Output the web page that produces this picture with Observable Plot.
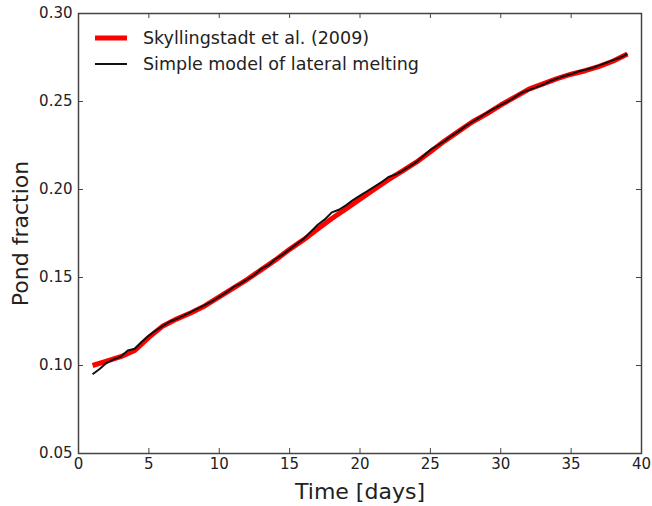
<!DOCTYPE html>
<html><head><meta charset="utf-8">
<script src="https://cdn.jsdelivr.net/npm/d3@7"></script>
<script src="https://cdn.jsdelivr.net/npm/@observablehq/plot@0.6"></script>
<style>body{margin:0;background:#fff}</style>
</head><body><div id="chart"></div>
<script>
const seriesNames = ["Skyllingstadt et al. (2009)", "Simple model of lateral melting"];
const redDays = [1,2,3,4,5,6,7,8,9,10,11,12,13,14,15,16,17,18,19,20,21,22,23,24,25,26,27,28,29,30,31,32,33,34,35,36,37,38,39];
const redValues = [0.1000,0.1025,0.1050,0.1085,0.1160,0.1225,0.1265,0.1300,0.1340,0.1390,0.1440,0.1490,0.1545,0.1600,0.1660,0.1715,0.1775,0.1835,0.1890,0.1945,0.2000,0.2055,0.2105,0.2155,0.2215,0.2275,0.2330,0.2385,0.2430,0.2480,0.2525,0.2570,0.2600,0.2630,0.2655,0.2675,0.2700,0.2730,0.2770];
const blackDays = [1,1.5,2,2.5,3,3.5,4,4.5,5,5.5,6,6.5,7,7.5,8,8.5,9,9.5,10,10.5,11,11.5,12,12.5,13,13.5,14,14.5,15,15.5,16,16.5,17,17.5,18,18.5,19,19.5,20,20.5,21,21.5,22,22.5,23,23.5,24,24.5,25,25.5,26,26.5,27,27.5,28,28.5,29,29.5,30,30.5,31,31.5,32,32.5,33,33.5,34,34.5,35,35.5,36,36.5,37,37.5,38,38.5,39];
const blackValues = [0.0950,0.0980,0.1015,0.1035,0.1050,0.1085,0.1095,0.1135,0.1170,0.1200,0.1225,0.1250,0.1265,0.1285,0.1305,0.1325,0.1345,0.1365,0.1390,0.1415,0.1445,0.1465,0.1490,0.1515,0.1550,0.1570,0.1605,0.1630,0.1660,0.1690,0.1720,0.1760,0.1800,0.1830,0.1870,0.1885,0.1910,0.1940,0.1965,0.1990,0.2015,0.2040,0.2070,0.2085,0.2105,0.2130,0.2155,0.2190,0.2225,0.2250,0.2275,0.2305,0.2330,0.2360,0.2385,0.2410,0.2435,0.2460,0.2480,0.2500,0.2525,0.2550,0.2565,0.2580,0.2595,0.2615,0.2630,0.2645,0.2655,0.2670,0.2680,0.2690,0.2705,0.2720,0.2735,0.2750,0.2770];
const xTicks = [0,5,10,15,20,25,30,35,40];
const yTicks = [0.05,0.10,0.15,0.20,0.25,0.30];
const xLabel = "Time [days]";
const yLabel = "Pond fraction";

const red = redDays.map((d,i)=>({day:d, value:redValues[i]}));
const black = blackDays.map((d,i)=>({day:d, value:blackValues[i]}));

const W=652, H=506, mL=78, mR=11, mT=13, mB=53;
const plotH = H-mT-mB, plotW = W-mL-mR;
const tickLen = 5;
const axisColor = "#444";

const chart = Plot.plot({
  width: W, height: H,
  marginLeft: mL, marginRight: mR, marginTop: mT, marginBottom: mB,
  style: {fontFamily: "DejaVu Sans", background: "#fff", color: "#222"},
  x: {domain: [0, 40]},
  y: {domain: [0.05, 0.30]},
  marks: [
    Plot.line(red, {x: "day", y: "value", stroke: "#ff0000", strokeWidth: 5, strokeLinecap: "butt"}),
    Plot.line(black, {x: "day", y: "value", stroke: "#111", strokeWidth: 2, strokeLinecap: "butt"}),
    Plot.ruleX(xTicks, {x: d=>d, insetTop: plotH - tickLen, stroke: axisColor}),
    Plot.ruleX(xTicks, {x: d=>d, insetBottom: plotH - tickLen, stroke: axisColor}),
    Plot.ruleY(yTicks, {y: d=>d, insetRight: plotW - tickLen, stroke: axisColor}),
    Plot.ruleY(yTicks, {y: d=>d, insetLeft: plotW - tickLen, stroke: axisColor}),
    Plot.frame({stroke: axisColor, strokeWidth: 1.5}),
    Plot.axisX({ticks: xTicks, tickSize: 0, tickPadding: 5, fontSize: 15, label: null, tickFormat: d=>String(d)}),
    Plot.axisY({ticks: yTicks, tickSize: 0, tickPadding: 6, fontSize: 15, label: null, tickFormat: d3.format(".2f")}),
    Plot.text([xLabel], {frameAnchor: "bottom", dy: 45, lineAnchor: "bottom", textAnchor: "middle", fontSize: 22, fill: "#222"}),
    Plot.text([yLabel], {frameAnchor: "left", rotate: -90, dx: -51, lineAnchor: "bottom", textAnchor: "middle", fontSize: 22, fill: "#222"})
  ]
});

// legend (inside plot, top-left)
const svg = d3.select(chart);
const leg = svg.append("g").attr("font-family", "DejaVu Sans").attr("font-size", 17.5)
  .attr("fill", "#222").attr("text-anchor", "start");
const legendItems = [
  {name: seriesNames[0], color: "#ff0000", width: 5, y: 38},
  {name: seriesNames[1], color: "#111", width: 2, y: 64}
];
legendItems.forEach(it => {
  leg.append("line").attr("x1", 95).attr("x2", 127).attr("y1", it.y).attr("y2", it.y)
    .attr("stroke", it.color).attr("stroke-width", it.width);
  leg.append("text").attr("x", 143).attr("y", it.y).attr("dy", "0.35em")
    .attr("text-anchor", "start").text(it.name);
});

document.getElementById("chart").appendChild(chart);
</script>
</body></html>
